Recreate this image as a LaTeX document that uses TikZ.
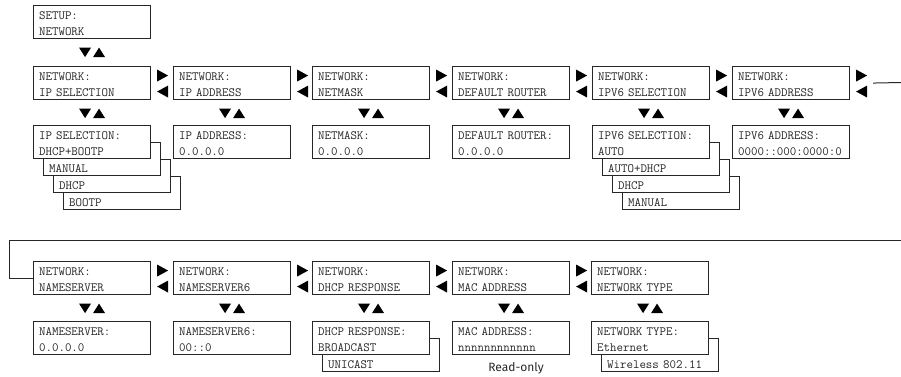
\documentclass[tikz,border=0pt]{standalone}
\usepackage{fontspec}
\newfontfamily\notefont{Fira Sans}
\usetikzlibrary{calc, positioning}

\tikzset{
  lcd/.style={draw=black!85, line width=1.1pt, fill=white, text=black!85, rectangle,
    minimum width=117pt, minimum height=33pt, inner xsep=5.5pt, inner ysep=0pt,
    text width=106pt, align=left, anchor=north west,
    font=\ttfamily\fontsize{12.6}{15.7}\selectfont, execute at begin node=\strut},
  navmark/.style={fill=black},
  wrapline/.style={draw=black!85, line width=1pt},
}
% left/right and down/up key marks
\newcommand{\lrmark}[1]{%
  \fill[navmark] ($(#1.east)+(6,-13.5)$) -- ++(11,6) -- ++(-11,6) -- cycle;
  \fill[navmark] ($(#1.east)+(17,2.5)$) -- ++(-11,6) -- ++(11,6) -- cycle;}
\newcommand{\udmark}[1]{%
  \fill[navmark] ($(#1.south)+(-13,8.5)$) -- ++(12,0) -- ++(-6,9.5) -- cycle;
  \fill[navmark] ($(#1.south)+(1,18)$) -- ++(12,0) -- ++(-6,-9.5) -- cycle;}

\begin{document}
\begin{tikzpicture}[x=1pt, y=-1pt]
\useasboundingbox (0,0) rectangle (901,376);
% Setup entry
\node[lcd] (setup) at (33,5) {SETUP:\\NETWORK};
\udmark{setup}
% First row of menu items
\node[lcd] (ipsel) at (33,66) {NETWORK:\\IP SELECTION};
\node[lcd] (ipaddr) at (173,66) {NETWORK:\\IP ADDRESS};
\node[lcd] (netmask) at (312,66) {NETWORK:\\NETMASK};
\node[lcd] (router) at (452,66) {NETWORK:\\DEFAULT ROUTER};
\node[lcd] (ipsix) at (592,66) {NETWORK:\\IPV6 SELECTION};
\node[lcd] (ipsixaddr) at (732,66) {NETWORK:\\IPV6 ADDRESS};
\lrmark{ipsel} \lrmark{ipaddr} \lrmark{netmask} \lrmark{router} \lrmark{ipsix} \lrmark{ipsixaddr}
\udmark{ipsel} \udmark{ipaddr} \udmark{netmask} \udmark{router} \udmark{ipsix} \udmark{ipsixaddr}
% First row of values
\node[lcd] (ipselc) at (63,176) {\\BOOTP};
\node[lcd] (ipselb) at (53,159) {\\DHCP};
\node[lcd] (ipsela) at (43,142) {\\MANUAL};
\node[lcd] (ipselval) at (33,125) {IP SELECTION:\\DHCP+BOOTP};
\node[lcd] (ipaddrval) at (173,125) {IP ADDRESS:\\0.0.0.0};
\node[lcd] (netmaskval) at (312,125) {NETMASK:\\0.0.0.0};
\node[lcd] (routerval) at (452,125) {DEFAULT ROUTER:\\0.0.0.0};
\node[lcd] (ipsixc) at (622,176) {\\MANUAL};
\node[lcd] (ipsixb) at (612,159) {\\DHCP};
\node[lcd] (ipsixa) at (602,142) {\\AUTO+DHCP};
\node[lcd] (ipsixval) at (592,125) {IPV6 SELECTION:\\AUTO};
\node[lcd] (ipsixaddrval) at (732,125) {IPV6 ADDRESS:\\0000::000:0000:0};
% Second row of menu items
\node[lcd] (nsrv) at (33,261) {NETWORK:\\NAMESERVER};
\node[lcd] (nsrvsix) at (173,261) {NETWORK:\\NAMESERVER6};
\node[lcd] (dhcpresp) at (312,261) {NETWORK:\\DHCP RESPONSE};
\node[lcd] (macaddr) at (452,261) {NETWORK:\\MAC ADDRESS};
\node[lcd] (nettype) at (591,261) {NETWORK:\\NETWORK TYPE};
\lrmark{nsrv} \lrmark{nsrvsix} \lrmark{dhcpresp} \lrmark{macaddr}
\udmark{nsrv} \udmark{nsrvsix} \udmark{dhcpresp} \udmark{macaddr} \udmark{nettype}
% Wrap to second row
\coordinate (wrapa) at (901,82.5);
\coordinate (wrapb) at (901,240);
\coordinate (wrapc) at (9,240);
\draw[wrapline] ($(ipsixaddr.east)+(23,0)$) -- (wrapa);
\draw[wrapline] (wrapb) -- (wrapc) |- (nsrv.west);
% Second row of values
\node[lcd] (nsrvval) at (33,321) {NAMESERVER:\\0.0.0.0};
\node[lcd] (nsrvsixval) at (173,321) {NAMESERVER6:\\00::0};
\node[lcd] (dhcprespa) at (322,338) {\\UNICAST};
\node[lcd] (dhcprespval) at (312,321) {DHCP RESPONSE:\\BROADCAST};
\node[lcd] (macaddrval) at (452,321) {MAC ADDRESS:\\nnnnnnnnnnnn};
\node[lcd] (nettypea) at (601,338) {\\Wireless 802.11};
\node[lcd] (nettypeval) at (591,321) {NETWORK TYPE:\\Ethernet};
\node[font=\notefont\fontsize{12}{14}\selectfont, text=black!85] (rdonly) at ($(macaddrval.south)+(5,13)$) {Read-only};
\end{tikzpicture}
\end{document}
